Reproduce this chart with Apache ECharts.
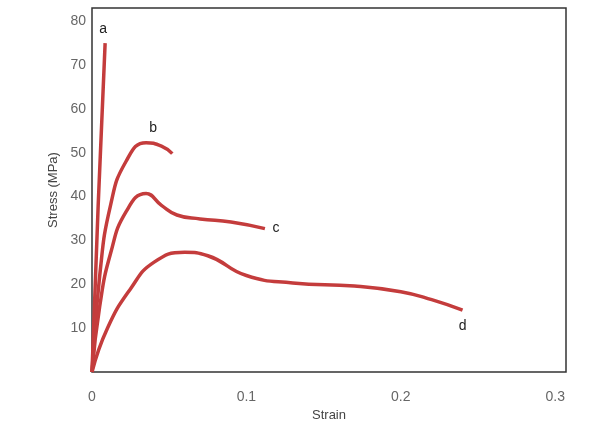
<!DOCTYPE html>
<html>
<head>
<meta charset="utf-8">
<script src="https://cdn.jsdelivr.net/npm/echarts@6/dist/echarts.min.js"></script>
<style>html,body{margin:0;background:#fff}#main{width:610px;height:428px}</style>
</head>
<body>
<div id="main"></div>
<script>
var curveA = [[0, 0], [0.004, 38], [0.0085, 75]];
var curveB = [[0, 0], [0.005, 22], [0.012, 38], [0.022, 48], [0.035, 52.3], [0.045, 51.5], [0.052, 49.8]];
var curveC = [[0, 0], [0.005, 15], [0.012, 27], [0.022, 36.5], [0.035, 40.7], [0.045, 38], [0.055, 35.8], [0.07, 34.9], [0.09, 34.2], [0.112, 32.7]];
var curveD = [[0, 0], [0.01, 10], [0.025, 19], [0.04, 25], [0.06, 27.3], [0.075, 26.5], [0.1, 22], [0.13, 20.3], [0.17, 19.6], [0.2, 18.3], [0.22, 16.5], [0.24, 14.1]];
var curveNames = ['a', 'b', 'c', 'd'];
var labelAt = [2, 4, 9, 11];

var dom = document.getElementById('main');
var myChart = echarts.init(dom);
var red = '#c43c3c';

function makeSeries(i, data, offset) {
    var name = curveNames[i];
    return {
        name: name,
        type: 'line',
        smooth: 0.5,
        symbol: 'none',
        data: data,
        lineStyle: { color: red, width: 3.5 },
        markPoint: {
            symbol: 'circle',
            symbolSize: 0,
            data: [{ coord: data[labelAt[i]].slice(), value: name }],
            label: { show: true, formatter: name, color: '#222', fontSize: 14, offset: offset }
        }
    };
}

option = {
    animation: false,
    grid: { left: 92, right: 44, top: 8, bottom: 56, show: true, borderColor: '#333', borderWidth: 1.5 },
    xAxis: {
        type: 'value', min: 0, max: 0.307, interval: 0.1,
        name: 'Strain', nameLocation: 'middle', nameGap: 30,
        nameTextStyle: { fontSize: 13, color: '#444' },
        axisLine: { show: false }, axisTick: { show: false }, splitLine: { show: false },
        axisLabel: { color: '#666', fontSize: 14, margin: 18,
            formatter: function (v) { return Math.abs(v * 10 - Math.round(v * 10)) < 1e-6 ? String(+v.toFixed(1)) : ''; } }
    },
    yAxis: {
        type: 'value', min: 0, max: 83, interval: 10,
        name: 'Stress (MPa)', nameLocation: 'middle', nameGap: 32,
        nameTextStyle: { fontSize: 13, color: '#444' },
        axisLine: { show: false }, axisTick: { show: false }, splitLine: { show: false },
        axisLabel: { color: '#666', fontSize: 14, margin: 6,
            formatter: function (v) { return v > 0 && v % 10 == 0 ? v : ''; } }
    },
    series: [
        makeSeries(0, curveA, [-2, -14]),
        makeSeries(1, curveB, [7, -14]),
        makeSeries(2, curveC, [11, 0]),
        makeSeries(3, curveD, [0, 16])
    ]
};
myChart.setOption(option, true);
</script>
</body>
</html>
